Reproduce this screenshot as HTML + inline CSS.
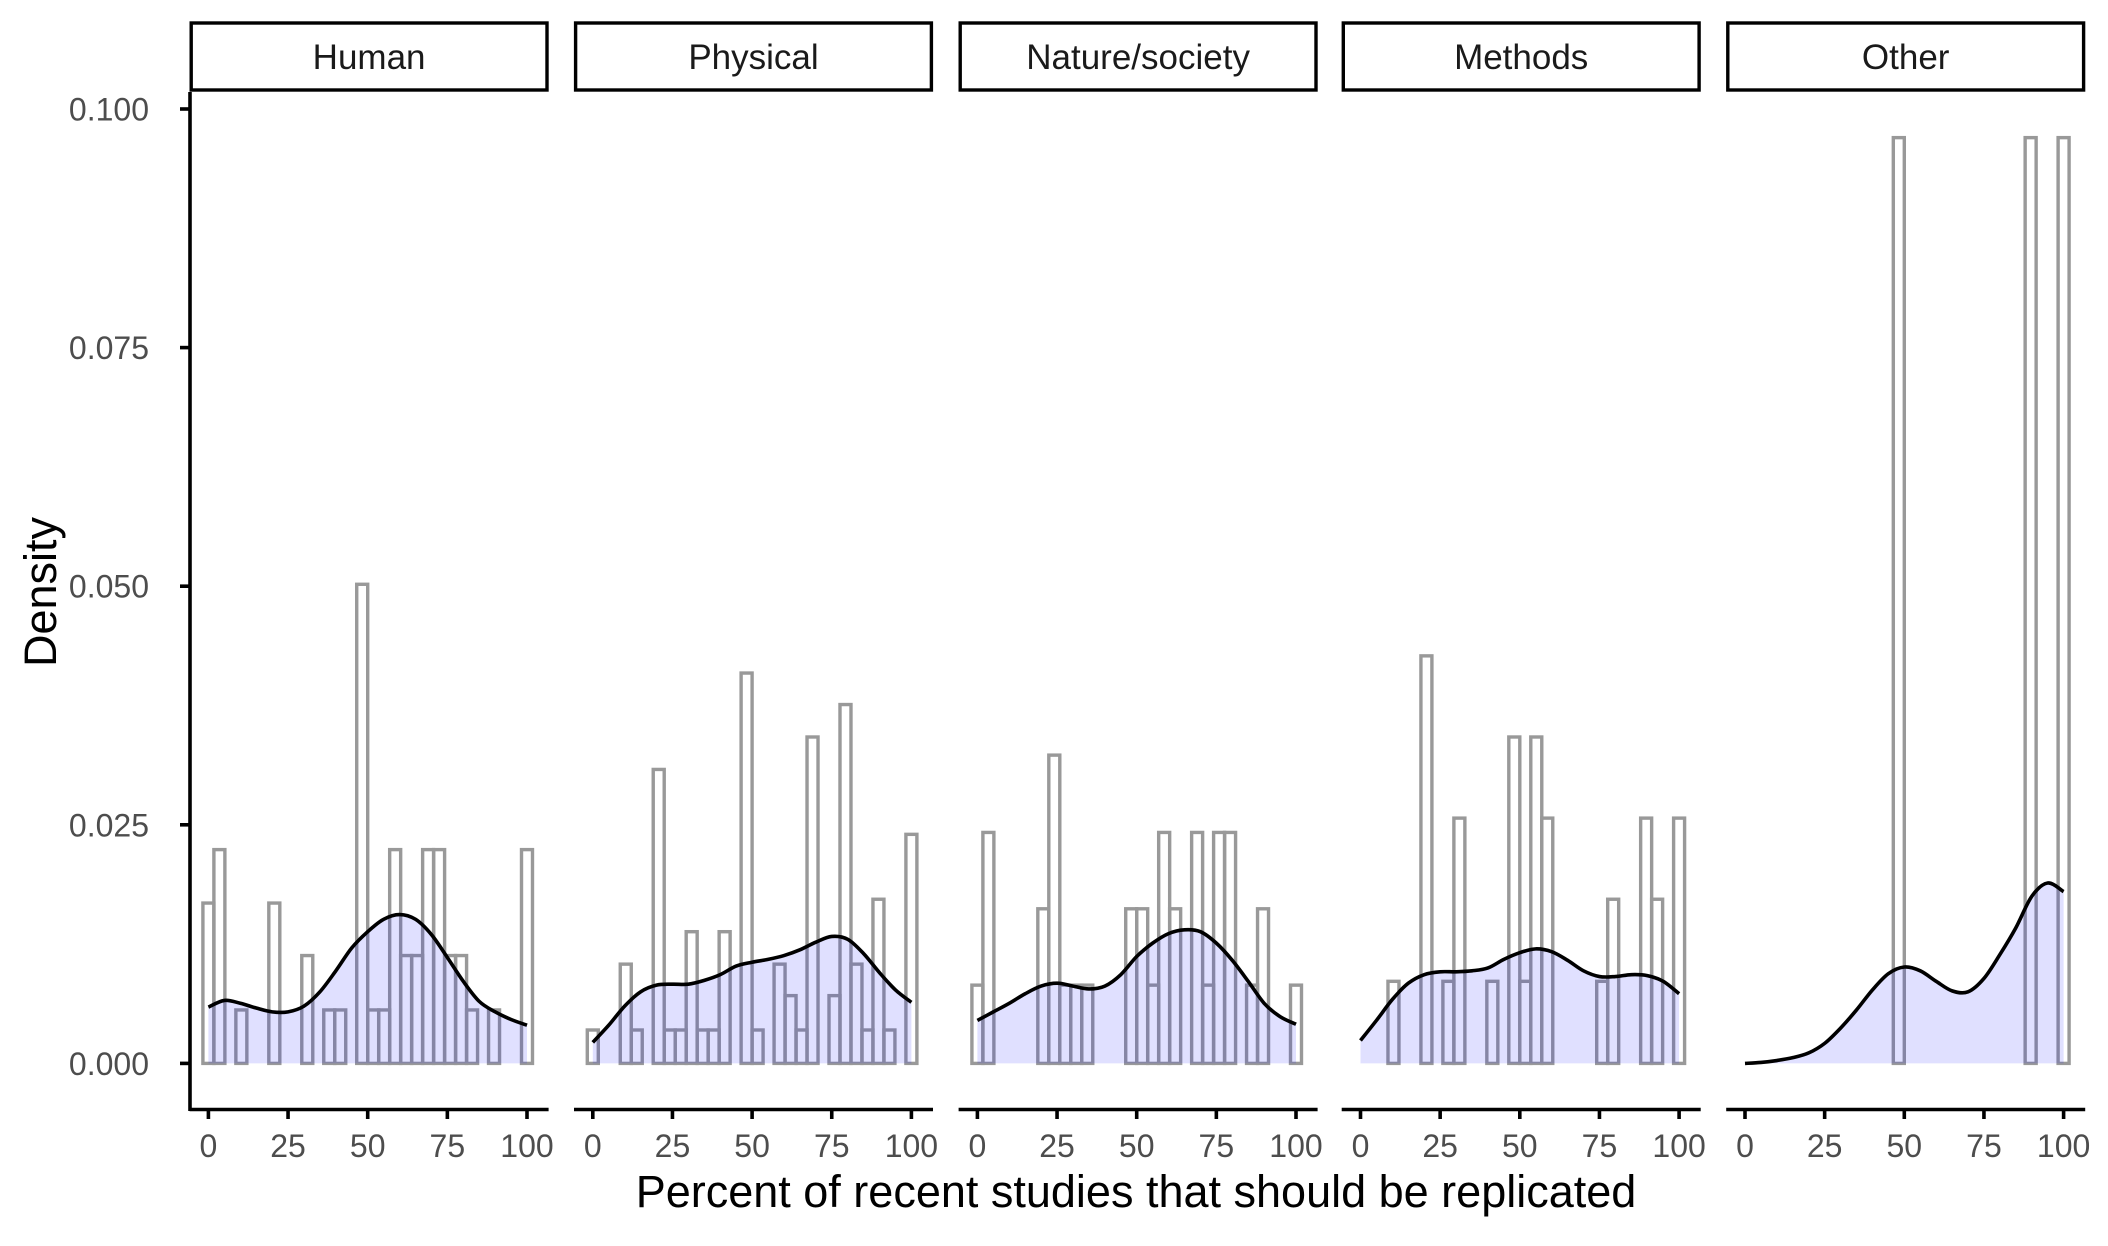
<!DOCTYPE html>
<html><head><meta charset="utf-8"><style>
body{margin:0;background:#fff}
svg text{font-family:"Liberation Sans",Arial,sans-serif}
</style></head><body>
<svg id="chart" width="2108" height="1241" viewBox="0 0 2108 1241" xmlns="http://www.w3.org/2000/svg"></svg>
<script>
const panelNames = ["Human","Physical","Nature/society","Methods","Other"];
const humanBins = [0.0168,0.0224,0,0.0056,0,0,0.0168,0,0,0.0113,0,0.0056,0.0056,0,0.0502,0.0056,0.0056,0.0224,0.0113,0.0113,0.0224,0.0224,0.0113,0.0113,0.0056,0,0.0056,0,0,0.0224];
const physicalBins = [0.0035,0,0,0.0104,0.0035,0,0.0308,0.0035,0.0035,0.0138,0.0035,0.0035,0.0138,0,0.0409,0.0035,0,0.0104,0.0071,0.0035,0.0342,0,0.0071,0.0376,0.0104,0.0035,0.0172,0.0035,0,0.024];
const natureBins = [0.0082,0.0242,0,0,0,0,0.0162,0.0323,0.0082,0.0082,0.0082,0,0,0,0.0162,0.0162,0.0082,0.0242,0.0162,0,0.0242,0.0082,0.0242,0.0242,0,0.0082,0.0162,0,0,0.0082];
const methodsBins = [0,0,0,0.0086,0,0,0.0427,0,0.0086,0.0257,0,0,0.0086,0,0.0342,0.0086,0.0342,0.0257,0,0,0,0,0.0086,0.0172,0,0,0.0257,0.0172,0,0.0257];
const otherBins = [0,0,0,0,0,0,0,0,0,0,0,0,0,0,0.097,0,0,0,0,0,0,0,0,0,0,0,0.097,0,0,0.097];
const densityX = [0,5,10,15,20,25,30,35,40,45,50,55,60,65,70,75,80,85,90,95,100];
const humanDensity = [0.0059,0.0066,0.0063,0.0058,0.0054,0.0054,0.006,0.0075,0.0097,0.0121,0.0138,0.0151,0.0156,0.0151,0.0135,0.0111,0.0086,0.0065,0.0054,0.0046,0.0040];
const physicalDensity = [0.0022,0.0040,0.0060,0.0075,0.0082,0.0083,0.0083,0.0087,0.0093,0.0102,0.0106,0.0109,0.0113,0.0119,0.0127,0.0133,0.0130,0.0115,0.0095,0.0077,0.0064];
const natureDensity = [0.0045,0.0054,0.0063,0.0073,0.0081,0.0084,0.0081,0.0078,0.0081,0.0093,0.0112,0.0126,0.0136,0.014,0.0138,0.0126,0.0108,0.0086,0.0063,0.0049,0.0041];
const methodsDensity = [0.0024,0.0045,0.0067,0.0084,0.0093,0.0096,0.0096,0.0097,0.0100,0.0109,0.0116,0.012,0.0117,0.0108,0.0097,0.0091,0.0091,0.0093,0.0092,0.0086,0.0073];
const otherDensity = [0,0.0001,0.0003,0.0006,0.0011,0.0021,0.0037,0.0056,0.0077,0.0094,0.0101,0.0097,0.0086,0.0076,0.0075,0.0089,0.0114,0.0142,0.0175,0.0189,0.018];
const yTicks = [0,0.025,0.05,0.075,0.1];
const yTickLabels = ["0.000","0.025","0.050","0.075","0.100"];
const xTicks = [0,25,50,75,100];

const binsList=[humanBins,physicalBins,natureBins,methodsBins,otherBins];
const densList=[humanDensity,physicalDensity,natureDensity,methodsDensity,otherDensity];
const NS="http://www.w3.org/2000/svg";
const svg=document.getElementById('chart');
function mk(tag,attrs,parent){const e=document.createElementNS(NS,tag);for(const k in attrs)e.setAttribute(k,attrs[k]);(parent||svg).appendChild(e);return e;}
const panelLefts=[189.6,574,958.6,1341.7,1726.2];
const panelW=359;
const y=v=>1063.4-v/0.025*238.6;
const xs=(p,v)=>panelLefts[p]+18.8+v*3.186;
const bw=100/29;

const ya=mk('g',{});


mk('line',{x1:190,x2:190,y1:92,y2:1111,stroke:'#000','stroke-width':3.6},ya);
yTicks.forEach((t,i)=>{
  mk('line',{x1:180,x2:190,y1:y(t),y2:y(t),stroke:'#000','stroke-width':3.6},ya);
  const tx=mk('text',{x:149,y:y(t)+11.5,'text-anchor':'end','font-size':32,fill:'#4d4d4d'},ya);
  tx.textContent=yTickLabels[i];
  
  
});
const yt=mk('text',{x:0,y:0,'font-size':45,fill:'#000','text-anchor':'middle',transform:'translate(56,592) rotate(-90)'});
yt.textContent='Density';



for(let p=0;p<5;p++){
  const g=mk('g',{});
  
  
  const L=panelLefts[p];
  const st=mk('rect',{x:L+1.6,y:23,width:panelW-3.2,height:67,fill:'#fff',stroke:'#000','stroke-width':3.4},g);
  
  
  const stt=mk('text',{x:L+panelW/2,y:69,'text-anchor':'middle','font-size':35,fill:'#1a1a1a'},g);
  stt.textContent=panelNames[p];
  
  
  binsList[p].forEach((v,i)=>{
    const x0=xs(p,i*bw-bw/2),x1=xs(p,i*bw+bw/2);
    const r=mk('rect',{x:x0,y:y(v),width:x1-x0,height:y(0)-y(v),fill:'none',stroke:'#999','stroke-width':3.4},g);
    
    
  });
  const d=densList[p];
  const pts=densityX.map((xv,i)=>[xs(p,xv),y(d[i])]);
  let path='M'+pts[0][0]+','+pts[0][1];
  for(let i=0;i<pts.length-1;i++){
    const p0=pts[Math.max(0,i-1)],p1=pts[i],p2=pts[i+1],p3=pts[Math.min(pts.length-1,i+2)];
    const c1=[p1[0]+(p2[0]-p0[0])/6,p1[1]+(p2[1]-p0[1])/6];
    const c2=[p2[0]-(p3[0]-p1[0])/6,p2[1]-(p3[1]-p1[1])/6];
    path+=' C'+c1+' '+c2+' '+p2;
  }
  const area=mk('path',{d:path+' L'+pts[pts.length-1][0]+','+y(0)+' L'+pts[0][0]+','+y(0)+'Z',fill:'rgba(0,0,255,0.12)',stroke:'none'},g);
  
  
  const ln=mk('path',{d:path,fill:'none',stroke:'#000','stroke-width':3.6},g);
  
  
  mk('line',{x1:L,x2:L+panelW,y1:1109.5,y2:1109.5,stroke:'#000','stroke-width':3.6},g);
  xTicks.forEach(t=>{
    mk('line',{x1:xs(p,t),x2:xs(p,t),y1:1109,y2:1119,stroke:'#000','stroke-width':3.6},g);
    const tx=mk('text',{x:xs(p,t),y:1157,'text-anchor':'middle','font-size':32,fill:'#4d4d4d'},g);
    tx.textContent=t;
    
    
  });
}
const xt=mk('text',{x:1136,y:1207,'text-anchor':'middle','font-size':45,fill:'#000'});
xt.textContent='Percent of recent studies that should be replicated';


</script>
</body></html>
